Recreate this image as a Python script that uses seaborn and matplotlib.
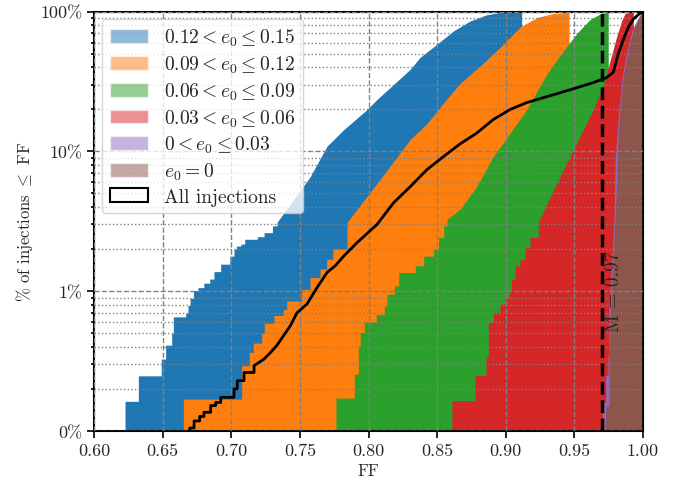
import numpy as np
import matplotlib
matplotlib.use('Agg')
import matplotlib.pyplot as plt
from matplotlib.patches import Patch
from matplotlib.ticker import NullFormatter
import seaborn as sns

# Cumulative % of injections with fitting factor <= FF.
# The first n_step points of each curve are the discrete staircase at the low end.
labels = [r'$0.12 < e_0 \leq 0.15$', r'$0.09 < e_0 \leq 0.12$', r'$0.06 < e_0 \leq 0.09$',
          r'$0.03 < e_0 \leq 0.06$', r'$0 < e_0 \leq 0.03$', r'$e_0 = 0$']

ff_e15 = [0.6226, 0.6323, 0.649, 0.6522, 0.6566, 0.6578, 0.6668, 0.6685, 0.670, 0.6724, 0.6758, 0.680,
          0.6843, 0.6874, 0.6923, 0.699, 0.702, 0.7037, 0.707, 0.7098, 0.719, 0.7239, 0.730,
          0.7333, 0.7576, 0.7698, 0.782, 0.7989, 0.8062, 0.8305, 0.8375, 0.8497, 0.8618, 0.874,
          0.8861, 0.8958, 0.9116]
pct_e15 = [0.163, 0.248, 0.327, 0.411, 0.499, 0.655, 0.696, 0.79, 0.89, 1.01, 1.06, 1.14,
           1.22, 1.38, 1.56, 1.78, 2.0, 2.1, 2.17, 2.35, 2.45, 2.62, 2.93,
           3.1, 6.6, 10.9, 14.3, 19.9, 23.5, 38.7, 46.9, 58.2, 72.5, 85.5,
           94.7, 98.5, 100.0]

ff_e12 = [0.6651, 0.7076, 0.7131, 0.7161, 0.7222, 0.7241, 0.7311, 0.7379, 0.7404, 0.7513, 0.7574,
          0.7647, 0.7695, 0.774,
          0.7843, 0.8062, 0.8305, 0.8426, 0.8548, 0.8667, 0.8834, 0.898, 0.9104, 0.9228, 0.9344,
          0.9454, 0.9461]
pct_e12 = [0.169, 0.293, 0.365, 0.425, 0.50, 0.59, 0.67, 0.74, 0.85, 1.03, 1.25,
           1.44, 1.69, 2.0,
           3.1, 5.9, 12.2, 15.8, 22.3, 30.6, 42.5, 58.0, 77.3, 90.7, 96.7,
           98.4, 100.0]

ff_e09 = [0.7763, 0.7897, 0.7926, 0.794, 0.797, 0.8057, 0.8115, 0.8135, 0.8188, 0.822, 0.8341,
          0.8402, 0.8475, 0.8511, 0.8548,
          0.8572, 0.8667, 0.8788, 0.891, 0.9031, 0.9153, 0.9298, 0.9395, 0.9517, 0.9614, 0.9687,
          0.9735, 0.9747]
pct_e09 = [0.172, 0.255, 0.407, 0.506, 0.60, 0.68, 0.78, 0.95, 1.09, 1.36, 1.52,
           1.78, 1.99, 2.42, 2.93,
           3.26, 3.86, 5.6, 9.2, 13.5, 19.9, 35.5, 48.5, 69.6, 87.6, 95.9,
           98.4, 100.0]

ff_e06 = [0.8608, 0.8776, 0.8856, 0.8873, 0.891, 0.8958, 0.8995, 0.9026, 0.9042, 0.9068, 0.9104,
          0.914, 0.9177,
          0.9237, 0.9395, 0.9517, 0.9638, 0.9711, 0.9747, 0.9808, 0.9844, 0.9869, 0.993]
pct_e06 = [0.165, 0.249, 0.34, 0.60, 0.70, 0.81, 0.90, 1.0, 1.22, 1.52, 1.69,
           2.05, 2.42,
           3.1, 6.6, 11.5, 19.9, 29.2, 39.8, 66.0, 85.5, 96.7, 100.0]

ff_e03 = [0.9706, 0.9728, 0.9745, 0.9752, 0.9776, 0.9789, 0.9798, 0.9825, 0.9850, 0.9886, 0.9922,
          0.9972, 0.9996]
pct_e03 = [0.16, 0.25, 0.34, 0.75, 1.9, 3.3, 9.0, 20.0, 34.6, 53.4, 74.5,
           92.8, 100.0]

ff_e00 = [0.9723, 0.9728, 0.9752, 0.9765, 0.9784, 0.9796, 0.9805, 0.9812, 0.9832, 0.9857, 0.9893,
          0.9929, 0.9978, 0.9998, 1.0]
pct_e00 = [0.12, 0.15, 0.33, 0.79, 1.89, 3.26, 5.0, 9.8, 20.0, 34.6, 53.4,
           74.5, 92.8, 98.6, 100.0]

ff_all = [0.6697, 0.6729, 0.677, 0.6801, 0.685, 0.6887, 0.6923, 0.702, 0.7044, 0.7093,
          0.7166, 0.7239, 0.7287, 0.7333, 0.743, 0.7479, 0.7552, 0.7625, 0.7698, 0.7758, 0.7819,
          0.7916, 0.8062, 0.8184, 0.8305, 0.8426, 0.8548, 0.8667, 0.8788, 0.891, 0.9031, 0.9153,
          0.9274, 0.9395, 0.9517, 0.9638, 0.9735, 0.9784, 0.982, 0.9857, 0.9893, 0.9929, 0.9966, 1.0]
pct_all = [0.105, 0.118, 0.127, 0.136, 0.152, 0.16, 0.174, 0.2, 0.229, 0.262,
           0.293, 0.327, 0.365, 0.41, 0.565, 0.70, 0.81, 1.06, 1.36, 1.52, 1.78,
           2.22, 3.0, 4.3, 5.6, 7.4, 9.2, 11.3, 13.5, 16.9, 19.9, 22.3,
           24.2, 26.2, 28.5, 31.0, 33.7, 36.7, 50.0, 63.0, 77.0, 88.0, 95.0, 100.0]

curves = [(ff_e15, pct_e15, 23), (ff_e12, pct_e12, 14), (ff_e09, pct_e09, 15),
          (ff_e06, pct_e06, 13), (ff_e03, pct_e03, 3), (ff_e00, pct_e00, 2)]

match_value = 0.97
y_ticks = [0.1, 1, 10, 100]
y_ticklabels = ['0%', '1%', '10%', '100%']
x_ticks = [0.60, 0.65, 0.70, 0.75, 0.80, 0.85, 0.90, 0.95, 1.00]
Y_FLOOR = 0.1


def cdf_path(ff, pct, n_step):
    """Staircase for the first n_step points, straight segments after that."""
    xs, ys = [], []
    for i in range(len(ff)):
        xs.append(ff[i])
        ys.append(pct[i])
        if i < n_step and i + 1 < len(ff):
            xs.append(ff[i + 1])
            ys.append(pct[i])
    return np.array(xs), np.array(ys)


sns.set_theme(style='ticks')
plt.rcParams['font.family'] = 'serif'
plt.rcParams['font.serif'] = ['cmr10', 'DejaVu Serif']
plt.rcParams['mathtext.fontset'] = 'cm'
plt.rcParams['axes.unicode_minus'] = False
plt.rcParams['axes.formatter.use_mathtext'] = True
plt.rcParams['font.size'] = 12

colors = sns.color_palette('tab10', 6)

fig, ax = plt.subplots(figsize=(6.73, 4.81), dpi=100)
fig.subplots_adjust(left=0.1397, right=0.9554, bottom=0.1019, top=0.974)

for (ff, pct, n_step), c in zip(curves, colors):
    xs, ys = cdf_path(ff, pct, n_step)
    ax.fill_between(xs, ys, Y_FLOOR, color=c, lw=0, zorder=1)

xs, ys = cdf_path(ff_all, pct_all, 10)
xs = np.concatenate([[ff_all[0]], xs])
ys = np.concatenate([[Y_FLOOR], ys])
sns.lineplot(x=xs, y=ys, sort=False, estimator=None, color='black', lw=2, ax=ax, zorder=4)

ax.axvline(match_value, color='black', ls='--', lw=2.5, zorder=4)
ax.text(match_value + 0.0022, 1.0, 'M = 0.97', rotation=90, ha='left', va='center', fontsize=14, zorder=5)

ax.set_yscale('log')
ax.set_ylim(Y_FLOOR, 100)
ax.set_xlim(0.6, 1.0)
ax.set_yticks(y_ticks, y_ticklabels)
ax.yaxis.set_minor_formatter(NullFormatter())
ax.set_xticks(x_ticks, [f'{t:.2f}' for t in x_ticks])

ax.set_axisbelow(False)
ax.grid(which='major', ls='--', color='gray', lw=1.0)
ax.grid(which='minor', axis='y', ls=':', color='gray', lw=1.0)
ax.tick_params(which='both', direction='out', color='black', width=1.2, labelsize=13)
ax.tick_params(which='major', length=5)
ax.tick_params(which='minor', length=2.5)
for s in ax.spines.values():
    s.set_color('black')
    s.set_linewidth(1.5)

ax.set_xlabel('FF', labelpad=3)
ax.set_ylabel(r'% of injections $\leq$ FF')

handles = [Patch(facecolor=c, alpha=0.5, label=l) for c, l in zip(colors, labels)]
handles.append(Patch(fill=False, edgecolor='black', lw=1.5, label='All injections'))
leg = ax.legend(handles=handles, loc='upper left', fontsize=14, labelspacing=0.28,
                handlelength=2.0, borderaxespad=0.4)
leg.set_zorder(6)

fig.savefig('out.png', dpi=100)
